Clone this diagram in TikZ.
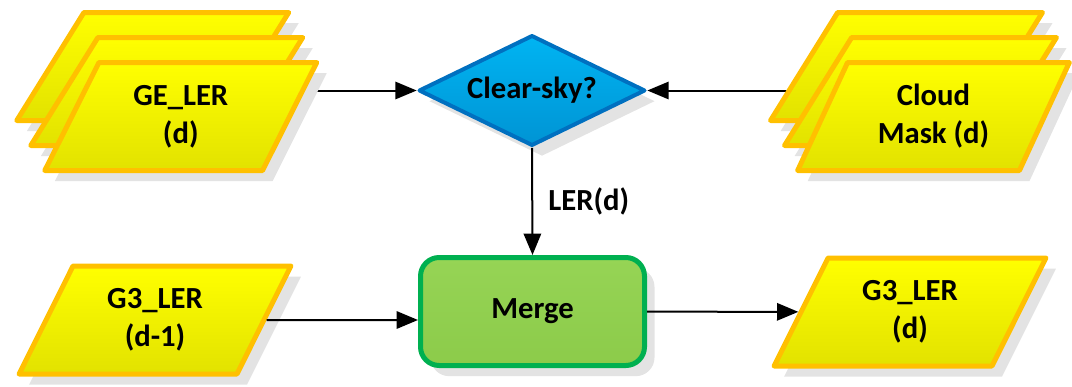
\documentclass[tikz,border=0pt]{standalone}
\usepackage{fontspec}
\setmainfont{Carlito}
\usetikzlibrary{arrows.meta, positioning, shapes.geometric, shadows, backgrounds}
\definecolor{dataTop}{HTML}{FFFF00}
\definecolor{dataBottom}{HTML}{E2E200}
\definecolor{dataEdge}{HTML}{FFC000}
\definecolor{testTop}{HTML}{00B4F2}
\definecolor{testBottom}{HTML}{0094D4}
\definecolor{testEdge}{HTML}{0070C0}
\definecolor{procTop}{HTML}{96D455}
\definecolor{procBottom}{HTML}{8CCB4A}
\definecolor{procEdge}{HTML}{00B050}
\definecolor{shade}{gray}{0.89}
\tikzset{
  softshadow/.style={drop shadow={shadow xshift=7.5pt, shadow yshift=-8pt, fill=shade, opacity=1}},
  databox/.style={
    trapezium, trapezium left angle=64, trapezium right angle=116,
    trapezium stretches=true, minimum width=204pt, minimum height=81pt,
    top color=dataTop, bottom color=dataBottom, draw=dataEdge,
    line width=3.75pt, line join=round, inner sep=2pt, align=center,
    softshadow
  },
  decision/.style={
    diamond, aspect=2, minimum width=170pt, minimum height=83pt, inner sep=0pt,
    top color=testTop, bottom color=testBottom, draw=testEdge,
    line width=3pt, line join=round, softshadow
  },
  process/.style={
    rectangle, rounded corners=14pt, minimum width=168pt, minimum height=81pt,
    top color=procTop, bottom color=procBottom, draw=procEdge,
    line width=3.75pt, softshadow
  },
  flow/.style={-{Triangle[length=16pt, width=13pt]}, line width=1.5pt, black}
}

\begin{document}
\begin{tikzpicture}[x=0.75pt, y=-0.75pt,
    every node/.style={font=\bfseries\fontsize{23}{28.5}\selectfont}]
  \useasboundingbox (0,0) rectangle (1072,386);

  % stacked daily inputs
  \node[databox] (ge3) at (152.75,66.5) {};
  \node[databox] (ge2) at (166.75,91.5) {};
  \node[databox] (ge) at (180.75,116.5) {GE\_LER\\(d)};

  \node[databox] (cloud3) at (906.5,66.5) {};
  \node[databox] (cloud2) at (920.5,91.5) {};
  \node[databox] (cloud) at (933.5,116.5) {Cloud\\Mask (d)};

  \node[decision] (clear) at (532,90.5) {Clear-sky?};
  \node[process] (merge) at (532.5,311.5) {Merge};

  \node[databox] (g3prev) at (155,320) {G3\_LER\\(d-1)};
  \node[databox] (g3) at (910,312) {G3\_LER\\(d)};

  % connectors, kept under the input stacks
  \begin{pgfonlayer}{background}
    \draw[flow] (clear.west -| ge) -- (clear.west);
    \draw[flow] (clear.east -| cloud2) -- (clear.east);
  \end{pgfonlayer}
  \draw[flow] (clear.south) -- node[right=8pt] (lerlabel) {LER(d)} (merge.north);
  \draw[flow] (g3prev) -- (g3prev -| merge.west);
  \draw[flow] (merge) -- (g3);
\end{tikzpicture}
\end{document}
